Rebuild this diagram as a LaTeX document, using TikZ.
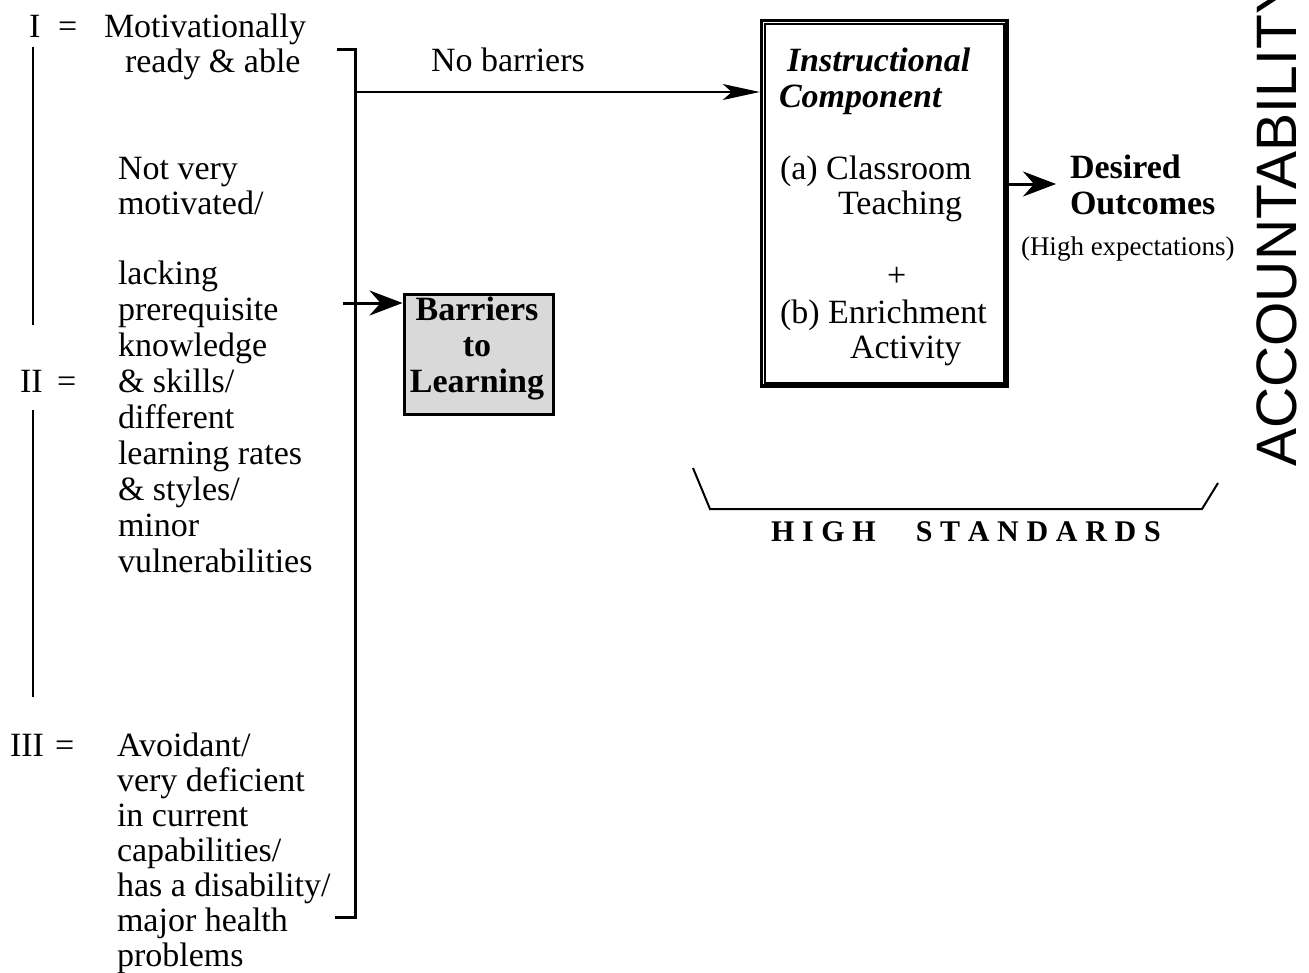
\documentclass[tikz,border=0pt]{standalone}
\usepackage{fontspec}
\setmainfont{Liberation Serif}
\newfontfamily\acctfont{Liberation Sans}
\usetikzlibrary{arrows.meta}

\begin{document}
\begin{tikzpicture}[x=1pt,y=1pt,
  % multi-line nodes are anchored on the baseline of their last line
  txt/.style={inner sep=0pt, outer sep=0pt, anchor=base west, align=left, yshift=-2pt,
              font=\fontsize{34}{35}\selectfont},
  txtwide/.style={txt, font=\fontsize{34}{36}\selectfont},
  rail/.style={line width=2.5pt},
  bracket/.style={line width=3pt},
  bigtip/.style={-{Stealth[length=33pt,width=25pt,inset=11pt]}},
  thintip/.style={-{Stealth[length=37pt,width=16pt,inset=9pt]}},
]
\useasboundingbox (0,0) rectangle (1309,-972);

% --- left column: student groups
\node[txt] (oneI)  at (29,-35)  {I};
\node[txt] (oneEq) at (58,-35)  {=};
\node[txt] (grpI)  at (104,-70) {Motivationally\\\hspace*{21pt}ready \& able};
\node[txt] (grpIIa) at (118,-212) {Not very\\motivated/};
\node[txtwide] (grpIIb) at (118,-570) {lacking\\prerequisite\\knowledge\\\& skills/\\different\\learning rates\\\& styles/\\minor\\vulnerabilities};
\node[txt] (twoII)  at (20,-390) {II};
\node[txt] (twoEq)  at (57,-390) {=};
\node[txt] (thrIII) at (10,-754) {III};
\node[txt] (thrEq)  at (55,-754) {=};
\node[txt] (grpIII) at (117,-964) {Avoidant/\\very deficient\\in current\\capabilities/\\has a disability/\\major health\\problems};

% continuum rails
\coordinate (railAtop) at (33,-47);
\coordinate (railAbot) at (33,-325);
\coordinate (railBtop) at (33,-410);
\coordinate (railBbot) at (33,-697);
\draw[rail] (railAtop) -- (railAbot);
\draw[rail] (railBtop) -- (railBbot);

% gathering bracket
\coordinate (brTL) at (337,-49);
\coordinate (brT)  at (355,-49);
\coordinate (brB)  at (355,-917);
\coordinate (brBL) at (335,-917);
\draw[bracket] (brTL) -- (brT) -- (brB) -- (brBL);

% --- barriers box
\node[draw, line width=3pt, fill=black!15, minimum width=149pt, minimum height=120pt,
      inner sep=0pt, anchor=north west] (barr) at (402.5,-292.5) {};
\node[inner sep=0pt, align=center, anchor=base, font=\bfseries\fontsize{34}{36}\selectfont]
      (barrText) at (477,-392) {Barriers\\to\\Learning};
\coordinate (barrIn) at (343,-303);
\draw[bracket, bigtip] (barrIn) -- (barrIn -| barr.west);

% --- instructional component (double frame)
\node[draw, line width=3.5pt, minimum width=245.5pt, minimum height=365.5pt,
      inner sep=0pt, anchor=north west] (instr) at (759.75,-18.75) {};
\draw[line width=2pt] ([shift={(4.8,-4.8)}]instr.north west) rectangle ([shift={(-4.8,4.8)}]instr.south east);

\node[txt, font=\bfseries\itshape\fontsize{34}{35}\selectfont] (ic1) at (787,-69) {Instructional};
\node[txt, font=\bfseries\itshape\fontsize{34}{35}\selectfont] (ic2) at (779,-105) {Component};
\node[txt] (ica) at (780,-212) {(a) Classroom\\\hspace*{58pt}Teaching};
\node[txt] (icp) at (887,-284) {+};
\node[txt] (icb) at (780,-356) {(b) Enrichment\\\hspace*{70pt}Activity};

% no-barriers path
\coordinate (nbStart) at (355,-92);
\draw[line width=1.5pt, thintip] (nbStart) -- (nbStart -| instr.west);
\node[txt] (nb) at (431,-69) {No barriers};

% --- outcomes
\node[txt, font=\bfseries\fontsize{34}{36}\selectfont] (out) at (1070,-212) {Desired\\Outcomes};
\node[txt, font=\fontsize{27}{30}\selectfont] (hiexp) at (1021,-253) {(High expectations)};
\coordinate (outTip) at (1056,-184);
\draw[bracket, bigtip] (instr.east |- outTip) -- (outTip);

% --- high standards brace
\coordinate (hsA) at (693,-468);
\coordinate (hsB) at (710,-509);
\coordinate (hsC) at (1202,-509);
\coordinate (hsD) at (1218,-483);
\draw[line width=2pt] (hsA) -- (hsB) -- (hsC) -- (hsD);
\newcommand\lsp{\kern 7.7pt}
\node[txt, font=\bfseries\fontsize{30}{32}\selectfont] (hs) at (771,-539)
  {H\lsp I\lsp G\lsp H\kern 40pt S\lsp T\lsp A\lsp N\lsp D\lsp A\lsp R\lsp D\lsp S};

% --- accountability, running up the right edge
\node[inner sep=0pt, anchor=base west, rotate=90, font=\acctfont\fontsize{57}{57}\selectfont]
  (acct) at (1296,-467) {ACCOUNTABILITY};
\end{tikzpicture}
\end{document}
